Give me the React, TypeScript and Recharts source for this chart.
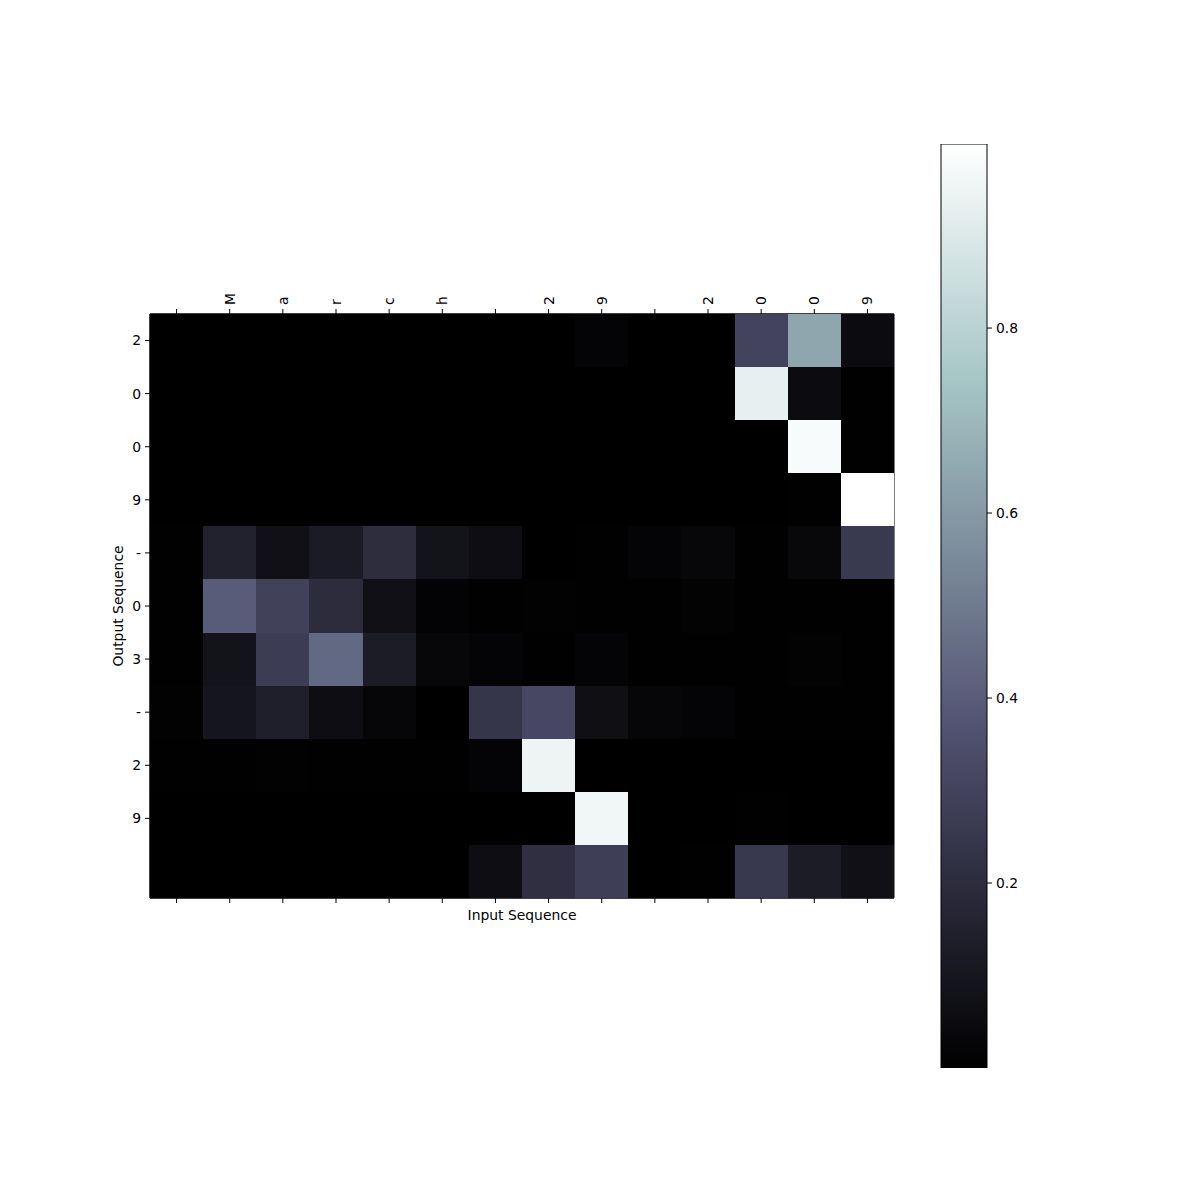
import React from "react";
import {
  ScatterChart,
  Scatter,
  XAxis,
  YAxis,
  ReferenceArea,
  BarChart,
  Bar,
} from "recharts";

// input characters along the top, output characters down the side
const inputChars = ["", "M", "a", "r", "c", "h", " ", "2", "9", " ", "2", "0", "0", "9"];
const outputChars = ["2", "0", "0", "9", "-", "0", "3", "-", "2", "9", ""];

// attention weights, one array per output step
const out0 = [0, 0, 0, 0, 0, 0, 0, 0, 0.02, 0, 0, 0.3, 0.64, 0.05];
const out1 = [0, 0, 0, 0, 0, 0, 0, 0, 0, 0, 0, 0.93, 0.05, 0.003];
const out2 = [0, 0, 0, 0, 0, 0, 0, 0, 0, 0, 0, 0, 0.98, 0.003];
const out3 = [0, 0, 0, 0, 0, 0, 0, 0, 0, 0, 0, 0, 0.005, 0.999];
const out4 = [0.003, 0.15, 0.07, 0.12, 0.2, 0.085, 0.06, 0.002, 0.005, 0.02, 0.03, 0.005, 0.035, 0.255];
const out5 = [0.003, 0.4, 0.29, 0.195, 0.07, 0.015, 0.005, 0.01, 0.005, 0.003, 0.012, 0.003, 0.003, 0.003];
const out6 = [0.003, 0.085, 0.27, 0.44, 0.125, 0.03, 0.02, 0.003, 0.02, 0.003, 0.003, 0.005, 0.012, 0.003];
const out7 = [0.01, 0.095, 0.14, 0.06, 0.025, 0.002, 0.24, 0.32, 0.065, 0.025, 0.02, 0.003, 0.003, 0.003];
const out8 = [0.005, 0.005, 0.01, 0.005, 0.005, 0.005, 0.02, 0.95, 0.002, 0.002, 0.002, 0.002, 0.002, 0.002];
const out9 = [0.002, 0.002, 0.002, 0.002, 0.002, 0.002, 0.002, 0.002, 0.96, 0.002, 0.002, 0.005, 0.002, 0.002];
const out10 = [0, 0, 0, 0, 0, 0, 0.06, 0.21, 0.278, 0.002, 0.003, 0.25, 0.125, 0.07];

const attention = [out0, out1, out2, out3, out4, out5, out6, out7, out8, out9, out10];

// the last output row has no tick in the original
const yTicks = [0, 1, 2, 3, 4, 5, 6, 7, 8, 9];
const colorbarTicks = [0.2, 0.4, 0.6, 0.8];

const FONT = "DejaVu Sans, sans-serif";
const FS = 13.9;

// plot box in page pixels
const PLOT_LEFT = 150;
const PLOT_TOP = 314;
const PLOT_RIGHT = 894;
const PLOT_BOTTOM = 898;

const cellW = (PLOT_RIGHT - PLOT_LEFT) / inputChars.length;
const cellH = (PLOT_BOTTOM - PLOT_TOP) / outputChars.length;

// matplotlib "bone" colormap anchor points
const boneAnchors: [number, number, number, number][] = [
  [0, 0, 0, 0],
  [0.365079, 0.319444, 0.319444, 0.444444],
  [0.746032, 0.652778, 0.777778, 0.777778],
  [1, 1, 1, 1],
];

const toHex = (r: number, g: number, b: number) =>
  "#" +
  [r, g, b]
    .map((c) => Math.round(Math.max(0, Math.min(1, c)) * 255).toString(16).padStart(2, "0"))
    .join("");

function bone(t: number) {
  const x = Math.max(0, Math.min(1, t));
  for (let i = 1; i < boneAnchors.length; i++) {
    const a = boneAnchors[i - 1];
    const b = boneAnchors[i];
    if (x <= b[0]) {
      const f = (x - a[0]) / (b[0] - a[0]);
      return toHex(a[1] + (b[1] - a[1]) * f, a[2] + (b[2] - a[2]) * f, a[3] + (b[3] - a[3]) * f);
    }
  }
  return "#ffffff";
}

const allValues = attention.flat();
const vmin = Math.min(...allValues);
const vmax = Math.max(...allValues);

const cells = attention.flatMap((row, r) =>
  row.map((v, c) => ({ col: c, row: r, v }))
);

const colorbarData = [{ name: "cb", range: [vmin, vmax] }];

const colIdx = inputChars.map((_, i) => i);

const TopTick = (props: any) => {
  const { x, y, payload } = props;
  return (
    <text
      x={x}
      y={y}
      transform={`rotate(-90, ${x}, ${y})`}
      textAnchor="start"
      dominantBaseline="central"
      fontSize={FS}
      fontFamily={FONT}
      fill="#000"
    >
      {inputChars[payload.value]}
    </text>
  );
};

const HeatCell = (props: any) => {
  const { cx, cy, payload } = props;
  const fill = bone((payload.v - vmin) / (vmax - vmin));
  return (
    <rect
      x={cx - cellW / 2}
      y={cy - cellH / 2}
      width={cellW}
      height={cellH}
      fill={fill}
      shapeRendering="crispEdges"
    />
  );
};

const tickStyle = { fill: "#000", fontSize: FS, fontFamily: FONT };

export default function App() {
  return (
    <div style={{ position: "absolute", left: 0, top: 0, width: 1200, height: 1200, background: "#fff", fontFamily: FONT }}>
      <div style={{ position: "absolute", left: 0, top: 0 }}>
        <ScatterChart
          width={900}
          height={1200}
          margin={{
            top: PLOT_TOP - 40,
            left: PLOT_LEFT - 50,
            right: 900 - PLOT_RIGHT,
            bottom: 1200 - PLOT_BOTTOM - 30,
          }}
        >
          <XAxis
            xAxisId="top"
            orientation="top"
            type="number"
            dataKey="col"
            domain={[-0.5, inputChars.length - 0.5]}
            allowDataOverflow
            ticks={colIdx}
            interval={0}
            height={40}
            tick={<TopTick />}
            tickSize={5}
            tickMargin={4}
            tickLine={{ stroke: "#000" }}
            axisLine={{ stroke: "#000" }}
          />
          <XAxis
            xAxisId="bottom"
            orientation="bottom"
            type="number"
            dataKey="col"
            domain={[-0.5, inputChars.length - 0.5]}
            allowDataOverflow
            ticks={colIdx}
            interval={0}
            height={30}
            tickFormatter={() => ""}
            tickSize={5}
            tickLine={{ stroke: "#000" }}
            axisLine={{ stroke: "#000" }}
            label={{
              value: "Input Sequence",
              position: "insideTop",
              offset: 12,
              style: { fill: "#000", fontSize: FS, fontFamily: FONT },
            }}
          />
          <YAxis
            yAxisId="left"
            type="number"
            dataKey="row"
            domain={[-0.5, outputChars.length - 0.5]}
            allowDataOverflow
            reversed
            ticks={yTicks}
            interval={0}
            width={50}
            tick={tickStyle}
            tickFormatter={(v: number) => outputChars[v]}
            tickSize={5}
            tickMargin={4}
            tickLine={{ stroke: "#000" }}
            axisLine={{ stroke: "#000" }}
            label={{
              value: "Output Sequence",
              angle: -90,
              position: "insideLeft",
              offset: 18,
              style: { textAnchor: "middle", fill: "#000", fontSize: FS, fontFamily: FONT },
            }}
          />
          <Scatter
            xAxisId="top"
            yAxisId="left"
            data={cells}
            shape={<HeatCell />}
            isAnimationActive={false}
          />
          <ReferenceArea
            xAxisId="top"
            yAxisId="left"
            x1={-0.5}
            x2={inputChars.length - 0.5}
            y1={-0.5}
            y2={outputChars.length - 0.5}
            fill="none"
            fillOpacity={0}
            stroke="#000"
            strokeWidth={1}
            ifOverflow="visible"
          />
        </ScatterChart>
      </div>
      <div style={{ position: "absolute", left: 900, top: 0 }}>
        <BarChart
          width={200}
          height={1200}
          data={colorbarData}
          margin={{ top: 144, bottom: 1200 - 1068, left: 41, right: 200 - 87 - 50 }}
          barCategoryGap={0}
        >
          <defs>
            <linearGradient id="boneGrad" x1="0" y1="1" x2="0" y2="0">
              {boneAnchors.map((a) => (
                <stop key={a[0]} offset={a[0]} stopColor={toHex(a[1], a[2], a[3])} />
              ))}
            </linearGradient>
          </defs>
          <XAxis dataKey="name" hide />
          <YAxis
            orientation="right"
            type="number"
            domain={[vmin, vmax]}
            allowDataOverflow
            ticks={colorbarTicks}
            interval={0}
            width={50}
            tick={tickStyle}
            tickFormatter={(v: number) => v.toFixed(1)}
            tickSize={5}
            tickMargin={4}
            tickLine={{ stroke: "#000" }}
            axisLine={false}
          />
          <Bar
            dataKey="range"
            fill="url(#boneGrad)"
            stroke="#000"
            strokeWidth={1}
            isAnimationActive={false}
          />
        </BarChart>
      </div>
    </div>
  );
}
